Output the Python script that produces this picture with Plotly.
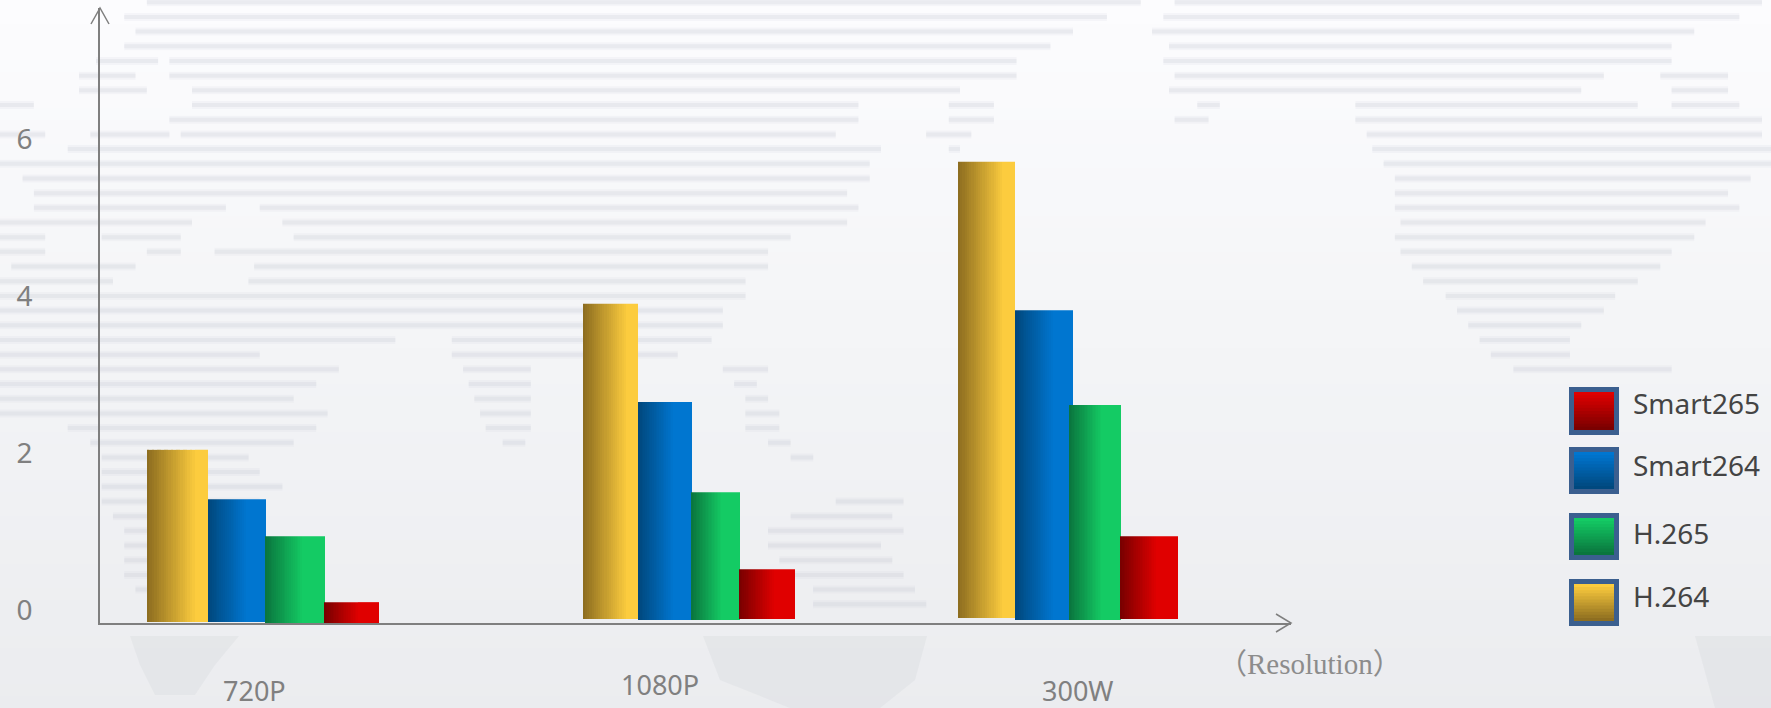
import plotly.graph_objects as go

# ---------- data ----------
categories = ["720P", "1080P", "300W"]
series_names = ["H.264", "Smart264", "H.265", "Smart265"]
h264 = [2.04, 3.90, 5.71]
smart264 = [1.41, 2.65, 3.82]
h265 = [0.94, 1.50, 2.61]
smart265 = [0.10, 0.52, 0.94]
y_ticks = [0, 2, 4, 6]
x_title = "（Resolution）"

# ---------- layout constants (pixels) ----------
W, H = 1771, 708
L, R, T, B = 100, 1291, 8, 623
ZERO_PX, UNIT_PX = 610, 78.5
def val(py): return (ZERO_PX - py) / UNIT_PX
def px(x): return (x - L) / (R - L)
def py(y): return (B - y) / (B - T)

bar_left = {
    "H.264": [147, 583, 958], "Smart264": [208, 638, 1015],
    "H.265": [265, 691, 1069], "Smart265": [324, 739, 1120],
}
bar_right = {
    "H.264": [208, 638, 1015], "Smart264": [266, 692, 1073],
    "H.265": [325, 740, 1121], "Smart265": [379, 795, 1178],
}
bar_floor = {
    "H.264": [622, 619, 618], "Smart264": [622, 620, 620],
    "H.265": [624, 620, 620], "Smart265": [624, 619, 619],
}
dark = {"H.264": (142, 110, 32), "Smart264": (0, 72, 126), "H.265": (10, 118, 62), "Smart265": (122, 0, 0)}
light = {"H.264": (252, 204, 62), "Smart264": (0, 118, 208), "H.265": (20, 203, 100), "Smart265": (224, 0, 0)}
ramp = {"H.264": 0.78, "Smart264": 0.65, "H.265": 0.62, "Smart265": 0.62}
values = {"H.264": h264, "Smart264": smart264, "H.265": h265, "Smart265": smart265}

def mix(a, b, t, alpha=None):
    c = tuple(round(a[i] + (b[i] - a[i]) * t) for i in range(3))
    if alpha is None:
        return "rgb(%d,%d,%d)" % c
    return "rgba(%d,%d,%d,%s)" % (*c, alpha)

fig = go.Figure()
STEPS = 20
for name in series_names:
    lefts, rights = bar_left[name], bar_right[name]
    bases = [val(p) for p in bar_floor[name]]
    # side-by-side vertical slices of each bar give the horizontal gradient
    for s in range(STEPS + 1):
        t = s / STEPS
        starts = [round(l + (r - l) * ramp[name] * t) for l, r in zip(lefts, rights)]
        ends = rights if s == STEPS else [round(l + (r - l) * ramp[name] * (s + 1) / STEPS) for l, r in zip(lefts, rights)]
        fig.add_trace(go.Bar(
            x=[0, 0, 0], y=[v - b for v, b in zip(values[name], bases)], base=bases,
            offset=starts,
            width=[e - st for e, st in zip(ends, starts)],
            marker=dict(color=mix(dark[name], light[name], t, 0.999), line=dict(width=0)),
            name=name, showlegend=False, hoverinfo="skip" if s else None,
            customdata=categories, cliponaxis=False,
        ))

shapes, annotations = [], []

# ---------- background ----------
top, mid, bot = (252, 252, 254), (244, 245, 247), (235, 236, 239)
BAND = 12
for y in range(0, H, BAND):
    f = y / H
    col = mix(top, mid, f / 0.45) if f < 0.45 else mix(mid, bot, (f - 0.45) / 0.55)
    shapes.append(dict(type="rect", xref="paper", yref="paper", x0=px(0), x1=px(W),
                       y0=py(y), y1=py(y + BAND), fillcolor=col, line_width=0, layer="below"))

land_rows = [
    (2, [(130, 1010), (1040, 1560)]), (15, [(110, 980), (1030, 1540)]), (28, [(120, 950), (1020, 1500)]),
    (41, [(110, 930), (1035, 1480)]), (54, [(85, 140), (150, 900), (1030, 1480)]),
    (67, [(70, 120), (150, 900), (1040, 1420), (1470, 1530)]), (80, [(70, 130), (170, 850), (1035, 1400), (1480, 1530)]),
    (93, [(0, 30), (170, 760), (840, 880), (1060, 1080), (1200, 1450), (1480, 1540)]),
    (106, [(150, 760), (840, 880), (1040, 1070), (1200, 1560)]), (119, [(0, 40), (80, 150), (160, 740), (820, 860), (1210, 1560)]),
    (132, [(60, 780), (840, 850), (1215, 1568)]), (145, [(0, 770), (1225, 1568)]), (158, [(20, 770), (1235, 1550)]),
    (171, [(30, 750), (1235, 1530)]), (184, [(30, 200), (230, 760), (1235, 1540)]), (197, [(0, 170), (250, 750), (1240, 1510)]),
    (210, [(0, 40), (90, 160), (260, 700), (1235, 1500)]), (223, [(0, 40), (130, 160), (190, 680), (1240, 1480)]),
    (236, [(10, 120), (225, 680), (1250, 1470)]), (249, [(0, 100), (220, 660), (1260, 1450)]),
    (262, [(0, 660), (1280, 1430)]), (275, [(0, 640), (1290, 1420)]), (288, [(0, 640), (1300, 1400)]),
    (301, [(0, 350), (400, 630), (1310, 1390)]), (314, [(0, 230), (400, 600), (1320, 1390)]),
    (327, [(0, 300), (410, 470), (640, 680), (1340, 1480)]), (340, [(0, 280), (415, 470), (650, 670)]),
    (353, [(0, 260), (420, 470), (660, 680)]), (366, [(0, 290), (425, 470), (660, 690)]),
    (379, [(60, 280), (430, 470), (660, 690)]), (392, [(80, 260), (445, 465), (680, 700)]),
    (405, [(90, 220), (700, 720)]), (418, [(90, 230)]), (431, [(90, 250)]), (444, [(90, 230), (740, 800)]),
    (457, [(100, 220), (700, 790)]), (470, [(110, 200), (680, 800)]), (483, [(110, 150), (680, 780)]),
    (496, [(110, 140), (690, 790)]), (509, [(110, 150), (700, 800)]), (522, [(120, 170), (720, 810)]), (535, [(720, 820)]),
]
S = W / 1568
path = ""
for ry, segs in land_rows:
    for a, b in segs:
        path += "M%.5f %.5f L%.5f %.5f " % (px(a * S), py(ry * S), px(b * S), py(ry * S))
# a wide faint stroke under a narrower one softens the stripes
shapes.append(dict(type="path", xref="paper", yref="paper", path=path, layer="below",
                   line=dict(color="rgba(196,199,210,0.12)", width=8)))
shapes.append(dict(type="path", xref="paper", yref="paper", path=path, layer="below",
                   line=dict(color="rgba(196,199,210,0.22)", width=4)))
for poly in ([(130, 636), (239, 636), (215, 665), (195, 695), (155, 695), (140, 665)],
             [(703, 636), (927, 636), (915, 680), (880, 708), (790, 708), (720, 680)],
             [(1695, 636), (1771, 636), (1771, 708), (1715, 708)]):
    p = "M" + " L".join("%.5f %.5f" % (px(a), py(b)) for a, b in poly) + " Z"
    shapes.append(dict(type="path", xref="paper", yref="paper", path=p, layer="below",
                       fillcolor="rgba(205,207,214,0.24)", line_width=0))

# ---------- axis arrowheads ----------
for pts in ([(91, 24), (100, 8), (109, 24)], [(1276, 614), (1291, 623), (1276, 632)]):
    p = "M" + " L".join("%.5f %.5f" % (px(a), py(b)) for a, b in pts)
    shapes.append(dict(type="path", xref="paper", yref="paper", path=p, line=dict(color="#7f7f7f", width=1.5)))

# ---------- category labels and axis title ----------
label_x = [254, 660, 1077]
label_y = [690, 684, 690]
for c, a, b in zip(categories, label_x, label_y):
    annotations.append(dict(text=c, xref="paper", yref="paper", x=px(a), y=py(b), showarrow=False,
                            xanchor="center", yanchor="middle", font=dict(size=27, color="#808080")))
annotations.append(dict(text=x_title, xref="paper", yref="paper", x=px(1310), y=py(664), showarrow=False,
                        xanchor="center", yanchor="middle",
                        font=dict(size=29, color="#8c8c8c", family="Liberation Serif, Noto Sans CJK SC")))

# ---------- hand-placed legend ----------
legend_y = {"Smart265": (387, 435, 403), "Smart264": (447, 494, 465), "H.265": (513, 560, 533), "H.264": (579, 626, 596)}
SW0, SW1, BORDER = 1569, 1619, 5
for name, (y0, y1, yt) in legend_y.items():
    shapes.append(dict(type="rect", xref="paper", yref="paper", x0=px(SW0), x1=px(SW1), y0=py(y0), y1=py(y1),
                       fillcolor="#3b5f8f", line_width=0))
    n = 12
    inner0, inner1 = y0 + BORDER, y1 - BORDER
    for i in range(n):
        a = inner0 + (inner1 - inner0) * i / n
        shapes.append(dict(type="rect", xref="paper", yref="paper", x0=px(SW0 + BORDER), x1=px(SW1 - BORDER),
                           y0=py(a), y1=py(inner1), fillcolor=mix(light[name], dark[name], i / (n - 1)), line_width=0))
    annotations.append(dict(text=name, xref="paper", yref="paper", x=px(1631), y=py(yt), showarrow=False,
                            xanchor="left", yanchor="middle", font=dict(size=28, color="#444444")))

fig.update_layout(
    width=W, height=H, margin=dict(l=L, r=W - R, t=T, b=H - B, pad=0, autoexpand=False),
    barmode="overlay", showlegend=False, paper_bgcolor="#f4f5f7", plot_bgcolor="rgba(0,0,0,0)",
    font=dict(family="Noto Sans, sans-serif"), shapes=shapes, annotations=annotations,
    xaxis=dict(range=[L, R], showgrid=False, zeroline=False, showticklabels=False, ticks="",
               showline=True, linecolor="#7f7f7f", linewidth=2, layer="below traces", fixedrange=True),
    yaxis=dict(range=[val(B), val(T)], tickvals=y_ticks, showgrid=False, zeroline=False, ticks="",
               showline=True, linecolor="#7f7f7f", linewidth=1.5, layer="below traces",
               tickfont=dict(size=28, color="#808080"), ticklabelstandoff=60, fixedrange=True),
)
fig.write_html("out.html", config=dict(displayModeBar=False),
               post_script="document.body.style.margin='0';document.body.style.overflow='hidden';")
